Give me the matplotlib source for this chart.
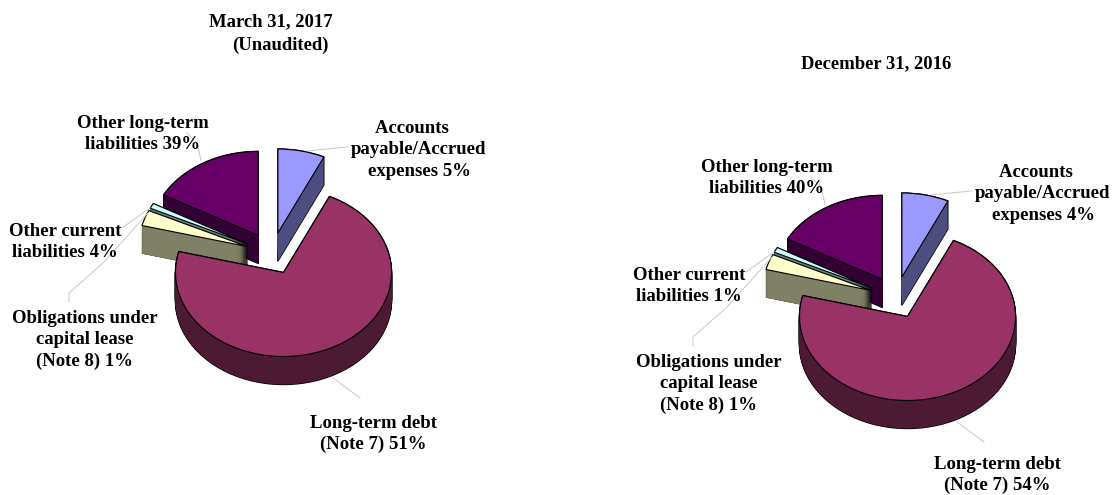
import numpy as np
import matplotlib
matplotlib.use('Agg')
import matplotlib.pyplot as plt

plt.rcParams['font.family'] = ['Liberation Serif', 'DejaVu Serif']

W, H = 1112, 495

# slice sizes as drawn (the printed percentages do not follow them)
shares_2017 = [7, 72, 3, 1, 17]
shares_2016 = [7, 72, 3, 1, 17]

top_colors = ['#9999FF', '#993366', '#FFFFCC', '#CCFFFF', '#660066']
side_colors = ['#4D4D80', '#4D1A33', '#808066', '#668080', '#330033']
# painter's order per slice, purple is furthest back and debt in front
paint_order = [4, 5, 3, 2, 1]

labels_2017 = ['Accounts   \npayable/Accrued\nexpenses 5%',
               'Long-term debt\n(Note 7) 51%',
               'Obligations under\ncapital lease\n(Note 8) 1%',
               'Other current\nliabilities 4%',
               'Other long-term\nliabilities 39%']
labels_2016 = ['Accounts   \npayable/Accrued\nexpenses 4%',
               'Long-term debt\n(Note 7) 54%',
               'Obligations under\ncapital lease\n(Note 8) 1%',
               'Other current\nliabilities 1%',
               'Other long-term\nliabilities 40%']

label_xy_2017 = [(419, 150), (373, 434), (85, 340), (65, 242), (143, 134)]
label_xy_2016 = [(1043, 194), (997, 475), (709, 384), (689, 286), (767, 178)]
leader_xy = [[(307, 151), (347, 147)],
             [(333, 378), (360, 398)],
             [(148, 213), (103, 263), (69, 293), (69, 302)],
             [(150, 208), (122, 228)],
             [(201, 160), (197, 143), (187, 133)]]

RX, RY = 108, 84
DEPTH = 28 / RY
LIM = 1.8


def draw_pie(shares, cx, cy):
    ax = fig.add_axes([(cx - LIM * RX) / W, 1 - (cy + LIM * RY) / H,
                       2 * LIM * RX / W, 2 * LIM * RY / H])
    pie_args = dict(explode=[0.25] * 5, startangle=90, counterclock=False)

    for drop in np.linspace(DEPTH, 0, 29):
        # black copy below the fill leaves only the outline of the wall
        edges, _ = ax.pie(shares, center=(0, -drop), colors=side_colors,
                          wedgeprops=dict(edgecolor='black', linewidth=1.0, joinstyle='round'),
                          **pie_args)
        fills, _ = ax.pie(shares, center=(0, -drop), colors=side_colors,
                          wedgeprops=dict(linewidth=0), **pie_args)
        for e, f, z, s in zip(edges, fills, paint_order, shares):
            e.set_zorder(z * 10)
            f.set_zorder(z * 10 + 1)
            # narrow tips turn solid black with a full width stroke
            if s < 5:
                e.set_linewidth(0.35)

    tops, _ = ax.pie(shares, colors=top_colors,
                     wedgeprops=dict(edgecolor='black', linewidth=0.8, joinstyle='round'),
                     **pie_args)
    for t, z in zip(tops, paint_order):
        t.set_zorder(z * 10 + 2)

    ax.set_aspect('auto')
    ax.set_xlim(-LIM, LIM)
    ax.set_ylim(-LIM, LIM)


def draw_labels(labels, positions, dx, dy):
    for text, (x, y), line in zip(labels, positions, leader_xy):
        over.text(x, y, text, ha='center', va='center', fontsize=13.5,
                  fontweight='bold', linespacing=1.32, color='black')
        pts = np.array(line)
        over.plot(pts[:, 0] + dx, pts[:, 1] + dy, color='#C8C8C8', lw=0.7)


fig = plt.figure(figsize=(W / 100, H / 100), dpi=100, facecolor='white')

draw_pie(shares_2017, 272, 253.5)
draw_pie(shares_2016, 896, 297.5)

over = fig.add_axes([0, 0, 1, 1], zorder=5)
over.set_xlim(0, W)
over.set_ylim(H, 0)
over.axis('off')

draw_labels(labels_2017, label_xy_2017, 0, 0)
draw_labels(labels_2016, label_xy_2016, 624, 44)

title_style = dict(ha='center', va='center', fontsize=13.4, fontweight='bold')
over.text(271, 22, 'March 31, 2017', **title_style)
over.text(280, 45, '(Unaudited)', **title_style)
over.text(876, 64, 'December 31, 2016', **title_style)

fig.savefig('out.png', dpi=100)
